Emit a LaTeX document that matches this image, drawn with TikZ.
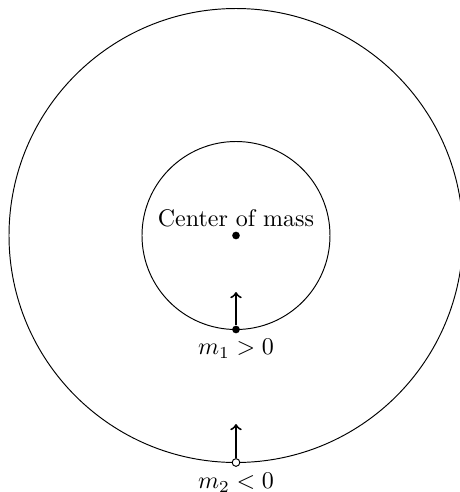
\documentclass[tikz,border=0pt]{standalone}
\begin{document}
\begin{tikzpicture}[x=0.41667pt,y=-0.41667pt,
  orbit/.style={draw=black,line width=0.4pt},
  massdot/.style={circle,fill=black,inner sep=0pt,minimum size=3.2pt},
  negdot/.style={circle,draw=black,fill=white,line width=0.4pt,inner sep=0pt,minimum size=3.2pt},
  velarrow/.style={->,thick},
  lbl/.style={inner sep=0pt}]
\useasboundingbox (0,0) rectangle (460,492);
\coordinate (cm) at (236,235.5);
\draw[orbit] (cm) circle[radius=227];
\draw[orbit] (cm) circle[radius=94];
\node[massdot] (c) at (cm) {};
\node[lbl,anchor=base] (ctext) at (236,226) {Center of mass};
\node[massdot] (m1) at (236,329.5) {};
\coordinate (v1) at (236,292);
\draw[velarrow] (m1.north) -- (v1);
\node[lbl,anchor=base] (m1l) at (236,354.5) {$m_1 > 0$};
\node[negdot] (m2) at (236,462.5) {};
\coordinate (v2) at (236,424);
\draw[velarrow] (m2.north) -- (v2);
\node[lbl,anchor=base] (m2l) at (236,488.5) {$m_2 < 0$};
\end{tikzpicture}
\end{document}
